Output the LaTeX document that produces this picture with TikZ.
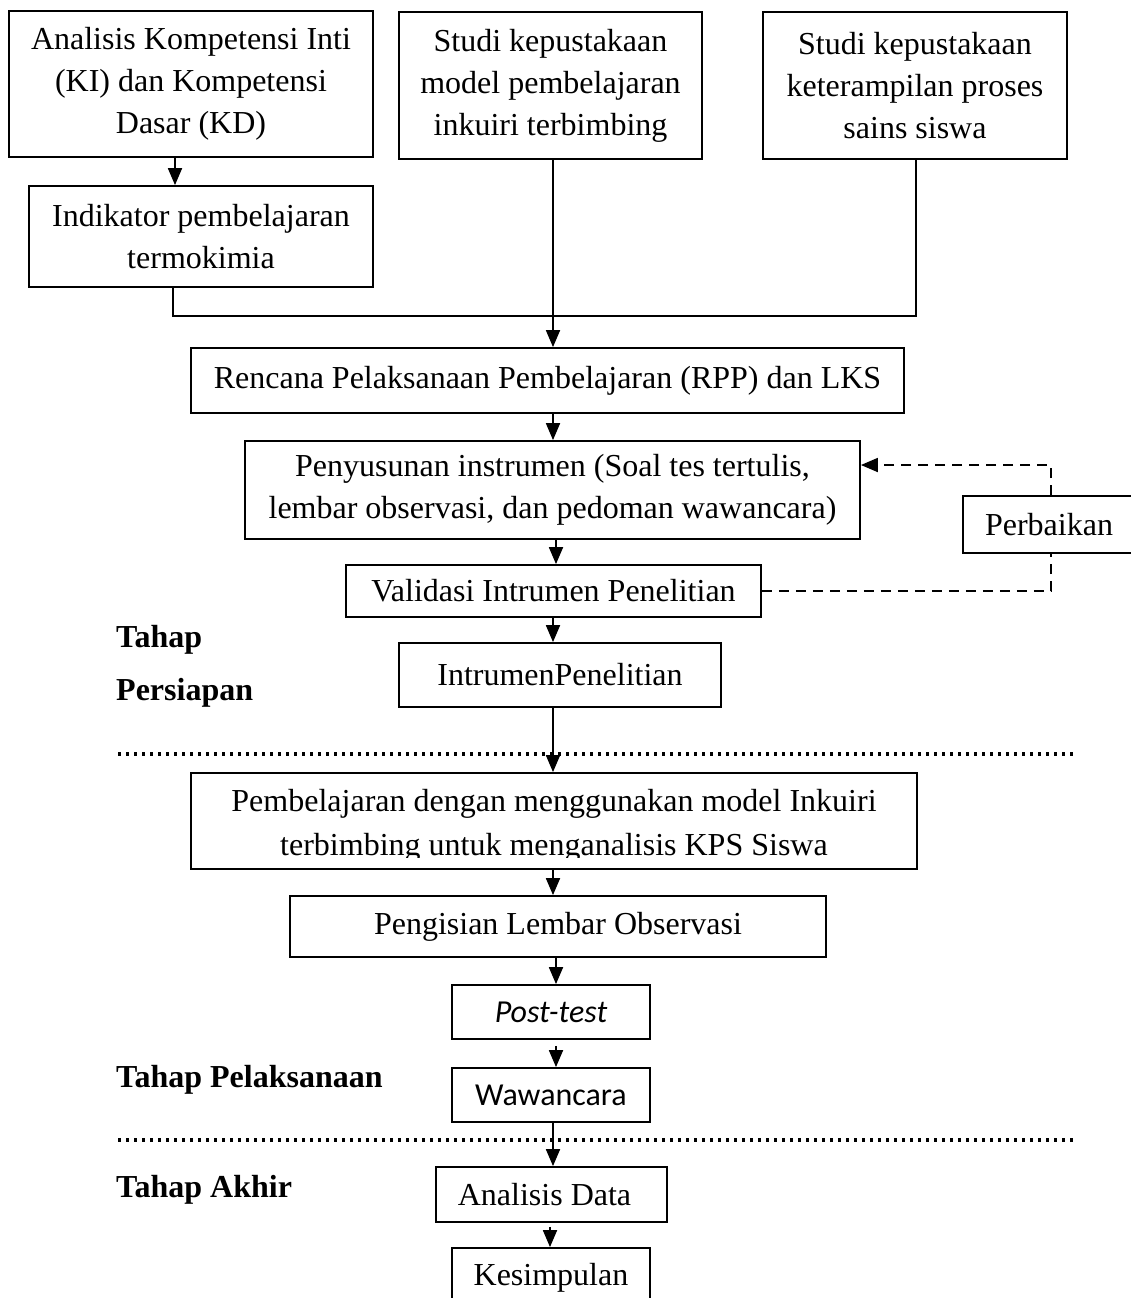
\documentclass[tikz,border=0pt]{standalone}
\usepackage{fontspec}
\setmainfont{Liberation Serif}
\newfontfamily\calfont{Carlito}
\usetikzlibrary{arrows.meta}
\begin{document}
\begin{tikzpicture}[x=1pt,y=-1pt,
  box/.style={draw, line width=1.8pt, rectangle, inner sep=0pt, align=center,
    font=\fontsize{32}{42}\selectfont},
  plain/.style={inner sep=0pt, align=center, font=\fontsize{32}{44}\selectfont},
  lbl/.style={inner sep=0pt, anchor=base west, font=\fontsize{32}{42}\selectfont\bfseries},
  conn/.style={line width=1.8pt},
  tip/.tip={Triangle[length=17pt,width=14pt]},
  arr/.style={line width=1.8pt, -tip},
  dashl/.style={line width=1.8pt, dash pattern=on 10pt off 7pt},
  dotl/.style={line width=3.2pt, dash pattern=on 3.2pt off 4.8pt}
]
\clip (0,0) rectangle (1131,1298);
\fill[white] (0,0) rectangle (1131,1298);

% top row
\node[box, minimum width=364pt, minimum height=146pt] (A) at (191,84)
  {Analisis Kompetensi Inti\\(KI) dan Kompetensi\\Dasar (KD)};
\node[box, minimum width=344pt, minimum height=101pt] (B) at (201,236.5)
  {Indikator pembelajaran\\termokimia};
\node[box, minimum width=303pt, minimum height=147pt] (C) at (550.5,85.5)
  {Studi kepustakaan\\model pembelajaran\\inkuiri terbimbing};
\node[box, minimum width=304pt, minimum height=147pt] (D) at (915,85.5)
  {Studi kepustakaan\\keterampilan proses\\sains siswa};

% main column
\node[box, minimum width=713pt, minimum height=65pt] (RPP) at (547.5,380.5)
  {Rencana Pelaksanaan Pembelajaran (RPP) dan LKS};
\node[box, minimum width=615pt, minimum height=98pt] (Pen) at (552.5,490)
  {Penyusunan instrumen (Soal tes tertulis,\\lembar observasi, dan pedoman wawancara)};
\node[box, minimum width=415pt, minimum height=52pt] (Val) at (553.5,591)
  {Validasi Intrumen Penelitian};
\node[box, minimum width=172pt, minimum height=57pt] (Perb) at (1049,524.5)
  {Perbaikan};
\node[box, minimum width=322pt, minimum height=64pt] (IP) at (560,675)
  {IntrumenPenelitian};

\node[box, minimum width=726pt, minimum height=96pt] (Pemb) at (554,821) {};
\begin{scope}
  \clip (185,770) rectangle (925,857);
  \node[plain] (PembT) at (554,826)
    {Pembelajaran dengan menggunakan model Inkuiri\\terbimbing untuk menganalisis KPS Siswa};
\end{scope}

\node[box, minimum width=536pt, minimum height=61pt] (Peng) at (558,926.5)
  {Pengisian Lembar Observasi};
\node[box, minimum width=198pt, minimum height=54pt, font=\fontsize{32}{38}\selectfont\calfont\itshape] (Post) at (551,1012)
  {Post-test};
\node[box, minimum width=198pt, minimum height=54pt, font=\fontsize{32}{38}\selectfont\calfont] (Waw) at (551,1095)
  {Wawancara};
\node[box, minimum width=231pt, minimum height=55pt] (AD) at (551.5,1194.5)
  {\hspace*{-14pt}Analisis Data};
\node[box, minimum width=198pt, minimum height=60pt] (Kes) at (551,1278)
  {Kesimpulan};

% stage labels
\node[lbl] (L1) at (116,647) {Tahap};
\node[lbl] (L2) at (116,700) {Persiapan};
\node[lbl] (L3) at (116,1087) {Tahap Pelaksanaan};
\node[lbl] (L4) at (116,1197) {Tahap Akhir};

% dotted separators
\draw[dotl] (118,754) -- (1075,754);
\draw[dotl] (118,1140) -- (1075,1140);

% connectors
\coordinate (sp) at (553,0);
\coordinate (jl) at (173,316);
\coordinate (jr) at (916,316);
\draw[arr] ([xshift=-16pt]A.south) -- ([xshift=-16pt]A.south |- B.north);
\draw[conn] (B.south -| jl) -- (jl) -- (jr) -- (jr |- D.south);
\draw[arr] (C.south -| sp) -- (RPP.north -| sp);
\draw[arr] (RPP.south -| sp) -- (Pen.north -| sp);
\draw[arr] ([xshift=3pt]Pen.south -| sp) -- ([xshift=3pt]Val.north -| sp);
\draw[arr] (Val.south -| sp) -- (IP.north -| sp);
\draw[arr] (IP.south -| sp) -- (Pemb.north -| sp);
\draw[arr] (Pemb.south -| sp) -- (Peng.north -| sp);
\draw[arr] ([xshift=3pt]Peng.south -| sp) -- ([xshift=3pt]Post.north -| sp);
\draw[arr] ([xshift=3pt,yshift=-6pt]Post.south -| sp) -- ([xshift=3pt]Waw.north -| sp);
\draw[arr] (Waw.south -| sp) -- (AD.north -| sp);
\draw[arr] ([xshift=-3pt,yshift=-4pt]AD.south -| sp) -- ([xshift=-3pt]Kes.north -| sp);

% feedback loop
\coordinate (fb) at (1051,0);
\draw[dashl] (Val.east) -| (Perb.south -| fb);
\draw[dashl, -tip] (Perb.north -| fb) |- ([yshift=25pt]Pen.east);
\end{tikzpicture}
\end{document}
